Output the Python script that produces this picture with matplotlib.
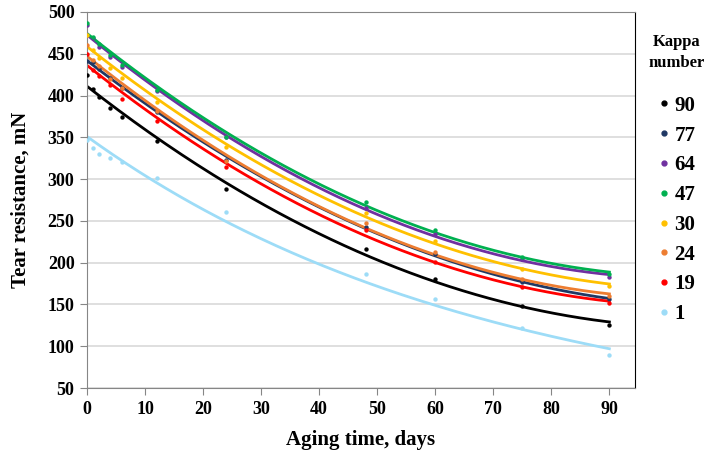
import numpy as np
import matplotlib
matplotlib.use("Agg")
import matplotlib.pyplot as plt
from matplotlib.lines import Line2D

plt.rcParams['font.family'] = ['Liberation Serif', 'DejaVu Serif']

# ----------------- Data -----------------
days = [0, 1, 2, 4, 6, 12, 24, 48, 60, 75, 90]
kappa = ['90', '77', '64', '47', '30', '24', '19', '1']
colors = ['#000000', '#1F3864', '#7030A0', '#00B050', '#FFC000', '#ED7D31', '#FF0000', '#9DDCF7']
trend = ['poly', 'poly', 'poly', 'poly', 'poly', 'poly', 'poly', 'exp']

k90 = [425, 408, 398, 385, 374, 346, 288, 216, 180, 148, 126]
k77 = [441, 440, 432, 421, 409, 380, 323, 243, 210, 177, 156]
k64 = [485, 469, 458, 446, 434, 405, 350, 266, 234, 204, 183]
k47 = [487, 470, 462, 448, 437, 407, 351, 273, 239, 207, 186]
k30 = [472, 455, 445, 433, 421, 392, 338, 259, 226, 193, 172]
k24 = [460, 443, 435, 420, 409, 382, 322, 247, 213, 180, 160]
k19 = [450, 431, 423, 413, 396, 369, 315, 239, 201, 171, 152]
k1 = [347, 337, 330, 325, 320, 301, 261, 187, 156, 122, 89]
series = [k90, k77, k64, k47, k30, k24, k19, k1]

# ----------------- Plot -----------------
fig = plt.figure(figsize=(7.11, 4.58), dpi=100)
ax = fig.add_axes([0.1224, 0.1528, 0.7706, 0.821])

x = np.array(days, dtype=float)
xs = np.linspace(0, 90, 200)
for vals, c, t in zip(series, colors, trend):
    if t == 'exp':
        a, b = np.polyfit(x, np.log(vals), 1)
        ys = np.exp(b) * np.exp(a * xs)
    else:
        ys = np.polyval(np.polyfit(x, vals, 2), xs)
    ax.plot(xs, ys, color=c, lw=2.0, zorder=2)
    ax.scatter(x, vals, color=c, s=10, zorder=3, linewidths=0)

ax.set_xlim(0, 94.4)
ax.set_ylim(50, 500)
ax.set_xticks(range(0, 91, 10))
ax.set_yticks(range(50, 501, 50))
ax.grid(axis='y', color='#D9D9D9', lw=1.2, zorder=0)
ax.set_axisbelow(True)
for s in ['left', 'bottom', 'top']:
    ax.spines[s].set_color('#868686')
ax.spines['right'].set_color('black')
ax.tick_params(axis='both', length=5, color='#868686', labelsize=13, pad=4)
for lab in ax.get_xticklabels() + ax.get_yticklabels():
    lab.set_fontweight('bold')

ax.set_xlabel('Aging time, days', fontsize=15, fontweight='bold', labelpad=9)
ax.set_ylabel('Tear resistance, mN', fontsize=15, fontweight='bold', labelpad=12)

# legend title
fig.text(0.951, 1 - 42 / 458, 'Kappa', ha='center', va='center', fontsize=12, fontweight='bold')
fig.text(0.951, 1 - 63 / 458, 'number', ha='center', va='center', fontsize=12, fontweight='bold')

handles = [Line2D([], [], marker='o', ls='', color=c, markersize=3.5) for c in colors]
ax.legend(handles, kappa, loc='upper left', bbox_to_anchor=(0.928, 0.791),
          bbox_transform=fig.transFigure, frameon=False, handlelength=0.4,
          handletextpad=0.3, labelspacing=0.47, borderpad=0, borderaxespad=0,
          prop={'weight': 'bold', 'size': 15})

fig.savefig('out.png', dpi=100)
